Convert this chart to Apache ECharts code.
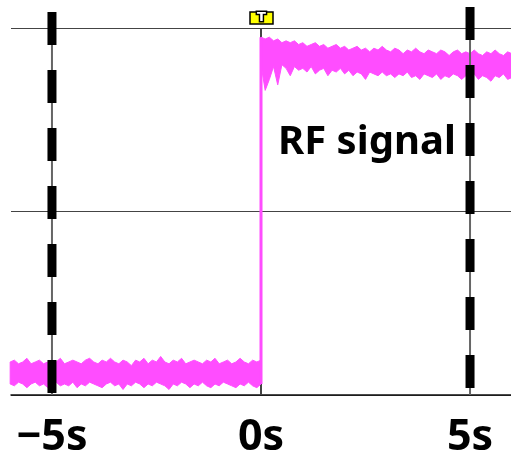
<!DOCTYPE html>
<html>
<head>
<meta charset="utf-8">
<script src="https://cdn.jsdelivr.net/npm/echarts@6/dist/echarts.min.js"></script>
<style>
  html, body { margin: 0; padding: 0; background: #fff; }
  #chart { width: 511px; height: 456px; }
</style>
</head>
<body>
<div id="chart"></div>
<script>
// scope trace, sampled every 0.1 s; each segment keeps the top and bottom of the noise band
const dt = 0.1;
const lowStart = -6;
const lowTop = [0.18,0.19,0.17,0.18,0.20,0.17,0.18,0.19,0.17,0.18,
  0.19,0.18,0.20,0.17,0.18,0.19,0.18,0.17,0.19,0.20,
  0.18,0.17,0.19,0.18,0.20,0.18,0.17,0.19,0.18,0.16,
  0.19,0.18,0.20,0.17,0.19,0.18,0.21,0.18,0.17,0.19,
  0.18,0.20,0.17,0.18,0.19,0.18,0.17,0.19,0.18,0.20,
  0.17,0.18,0.19,0.17,0.18,0.20,0.18,0.17,0.19,0.18,0.19];
const lowBottom = [0.06,0.05,0.07,0.06,0.04,0.06,0.07,0.05,0.06,0.04,
  0.06,0.07,0.05,0.06,0.05,0.07,0.04,0.06,0.05,0.07,
  0.06,0.05,0.04,0.06,0.07,0.05,0.06,0.03,0.06,0.05,
  0.07,0.06,0.04,0.06,0.05,0.07,0.06,0.05,0.03,0.06,
  0.05,0.07,0.06,0.04,0.06,0.05,0.07,0.05,0.04,0.06,
  0.05,0.07,0.06,0.05,0.04,0.06,0.05,0.07,0.05,0.04,0.06];
const highStart = 0;
const highTop = [1.95,1.94,1.95,1.93,1.94,1.92,1.93,1.92,1.93,1.91,
  1.92,1.90,1.91,1.92,1.90,1.91,1.89,1.90,1.91,1.89,
  1.90,1.88,1.89,1.90,1.88,1.89,1.87,1.89,1.88,1.90,
  1.88,1.87,1.89,1.88,1.86,1.88,1.87,1.89,1.87,1.86,
  1.88,1.87,1.86,1.88,1.87,1.85,1.87,1.88,1.86,1.87,
  1.86,1.88,1.86,1.85,1.87,1.86,1.88,1.86,1.85,1.87,1.86];
const highBottom = [1.80,1.66,1.72,1.79,1.69,1.80,1.78,1.74,1.79,1.77,
  1.78,1.76,1.79,1.75,1.77,1.78,1.74,1.77,1.76,1.78,
  1.75,1.77,1.74,1.76,1.75,1.72,1.76,1.75,1.74,1.76,
  1.74,1.75,1.73,1.75,1.74,1.76,1.73,1.74,1.72,1.75,
  1.74,1.73,1.75,1.72,1.74,1.73,1.75,1.74,1.72,1.74,
  1.73,1.75,1.72,1.74,1.73,1.71,1.74,1.73,1.75,1.72,1.73];
const stepEdge = [[0, 0.06], [0, 1.95]];

// cursors at -5 s and +5 s, with the level where each dashed line starts
const cursorX = [-5, 5];
const cursorTop = [2.087, 2.114];
const triggerX = 0;
const tickValues = [-5, 0, 5];
const tickText = { '-5': '−5s', '0': '0s', '5': '5s' };

const segments = [
  { t0: lowStart, top: lowTop, bottom: lowBottom },
  { t0: highStart, top: highTop, bottom: highBottom }
];
const pink = '#ff4dff';

const myChart = echarts.init(document.getElementById('chart'));
const option = {
  animation: false,
  title: {
    text: 'RF signal',
    left: 273,
    top: 118,
    textStyle: { fontFamily: 'Noto Sans', fontWeight: 'bold', fontSize: 40, color: '#000' }
  },
  grid: { left: 11, right: 0, top: 28, bottom: 61, outerBoundsMode: 'none', containLabel: false },
  xAxis: {
    type: 'value',
    min: -5.98,
    max: 5.98,
    axisLine: { lineStyle: { color: '#111', width: 1.5 } },
    axisTick: { show: false },
    splitLine: { show: false },
    axisLabel: {
      margin: 21,
      customValues: tickValues,
      fontFamily: 'Noto Sans',
      fontWeight: 'bold',
      fontSize: 43,
      color: '#000',
      formatter: v => tickText[String(v)] || ''
    }
  },
  yAxis: {
    type: 'value',
    min: 0,
    max: 2,
    interval: 1,
    axisLine: { show: false },
    axisTick: { show: false },
    axisLabel: { show: false },
    splitLine: { lineStyle: { color: '#444', width: 1 } }
  },
  series: [
    {
      // trigger line at 0 s, under the trace
      type: 'line',
      data: [],
      z: 1,
      markLine: {
        silent: true,
        z: 1,
        symbol: 'none',
        label: { show: false },
        lineStyle: { color: '#444', width: 2, type: 'solid' },
        data: [{ xAxis: triggerX }]
      }
    },
    {
      type: 'custom',
      z: 2,
      data: segments.map((s, i) => [s.t0, i]),
      renderItem: function (params, api) {
        const seg = segments[params.dataIndex];
        const pts = [];
        seg.top.forEach((v, i) => pts.push(api.coord([seg.t0 + i * dt, v])));
        for (let i = seg.bottom.length - 1; i >= 0; i--) {
          pts.push(api.coord([seg.t0 + i * dt, seg.bottom[i]]));
        }
        return {
          type: 'polygon',
          shape: { points: pts },
          style: { fill: pink, stroke: pink, lineWidth: 1 }
        };
      }
    },
    {
      type: 'line',
      z: 3,
      data: stepEdge,
      symbol: 'none',
      lineStyle: { color: pink, width: 3 }
    },
    {
      // dashed cursors
      type: 'custom',
      z: 4,
      data: cursorX.map((x, i) => [x, cursorTop[i]]),
      renderItem: function (params, api) {
        const top = api.coord([api.value(0), api.value(1)]);
        const bottom = api.coord([api.value(0), 0]);
        return {
          type: 'group',
          children: [
            {
              type: 'line',
              shape: { x1: top[0], y1: top[1], x2: bottom[0], y2: bottom[1] },
              style: { stroke: '#666', lineWidth: 2 }
            },
            {
              type: 'line',
              shape: { x1: top[0], y1: top[1], x2: bottom[0], y2: bottom[1] },
              style: { stroke: '#000', lineWidth: 9, lineDash: [33, 25] }
            }
          ]
        };
      }
    },
    {
      // trigger marker "T"
      type: 'custom',
      z: 5,
      data: [[triggerX, 2]],
      renderItem: function (params, api) {
        const p = api.coord([api.value(0), api.value(1)]);
        return {
          type: 'group',
          children: [
            {
              type: 'rect',
              shape: { x: p[0] - 11, y: p[1] - 16, width: 23, height: 12 },
              style: { fill: '#ffff00', stroke: '#000', lineWidth: 1.5 }
            },
            {
              type: 'text',
              style: {
                x: p[0] + 0.5, y: p[1] - 10, text: 'T',
                align: 'center', verticalAlign: 'middle',
                fontFamily: 'DejaVu Sans', fontWeight: 'bold', fontSize: 13,
                fill: '#fff', stroke: '#000', lineWidth: 3
              }
            }
          ]
        };
      }
    }
  ]
};
myChart.setOption(option);
</script>
</body>
</html>
